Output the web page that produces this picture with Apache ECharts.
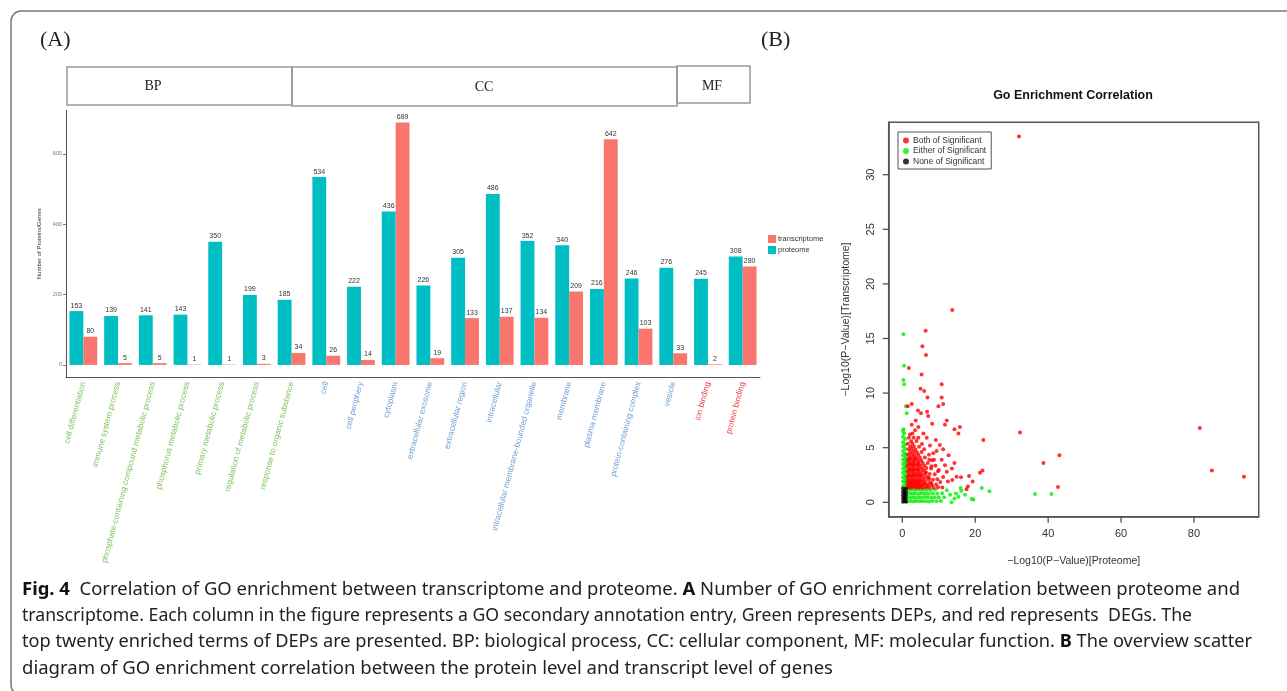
<!DOCTYPE html>
<html><head><meta charset="utf-8">
<script src="https://cdn.jsdelivr.net/npm/echarts@6/dist/echarts.min.js"></script>
<style>html,body{margin:0;padding:0;background:#fff}#c{width:1287px;height:691px}</style>
</head><body><div id="c"></div>
<script>
// ---------- Panel A data ----------
const categories = ['cell differentiation','immune system process','phosphate-containing compound metabolic process','phosphorus metabolic process','primary metabolic process','regulation of metabolic process','response to organic substance','cell','cell periphery','cytoplasm','extracellular exosome','extracellular region','intracellular','intracellular membrane-bounded organelle','membrane','plasma membrane','protein-containing complex','vesicle','ion binding','protein binding'];
const ontology = ['BP','BP','BP','BP','BP','BP','BP','CC','CC','CC','CC','CC','CC','CC','CC','CC','CC','CC','MF','MF'];
const proteome = [153,139,141,143,350,199,185,534,222,436,226,305,486,352,340,216,246,276,245,308];
const transcriptome = [80,5,5,1,1,3,34,26,14,689,19,133,137,134,209,642,103,33,2,280];
const yTicksA = [0,200,400,600];

// ---------- Panel B data ----------
const xTicksB = [0,20,40,60,80];
const yTicksB = [0,5,10,15,20,25,30];
const xRangeB = [-3.73, 97.75];
const yRangeB = [-1.32, 34.8];
const bothSignificant = [
 [32.0,33.5],[13.7,17.6],[6.4,15.7],[5.5,14.3],[6.5,13.5],[1.8,12.3],[5.3,11.7],[10.8,10.8],[5.0,10.4],[6.0,10.2],
 [6.9,9.6],[10.8,9.6],[11.2,9.0],[9.9,8.8],[2.6,9.0],[1.5,8.8],[4.3,8.4],[6.8,8.3],[5.1,8.15],[7.1,7.9],
 [12.2,7.5],[11.7,7.1],[8.2,7.2],[15.8,6.9],[14.3,6.7],[15.4,6.3],[32.3,6.4],[81.6,6.8],[22.2,5.7],[9.2,5.7],
 [38.7,3.6],[43.1,4.3],[84.9,2.9],[93.7,2.35],[42.7,1.4],[22.0,2.9],[21.3,2.7],[18.3,2.4],[16.1,2.3],[14.9,2.35],
 [19.3,1.9],[18.0,1.45],[17.6,1.2],[14.3,3.6],[13.6,3.1],[12.2,2.8],[13.7,2.05],[12.7,4.3],[11.2,4.85],[10.3,5.25],
 [9.4,4.7],[10.8,3.9],[11.7,3.4],[10.0,2.95],[8.0,3.3],[8.7,3.9],[7.6,5.2],[5.8,6.3],[4.4,6.9],[3.5,6.6],
 [2.6,7.1],[3.7,7.5],[2.8,6.3],[4.4,5.9],[6.7,5.9],[8.5,4.5],[7.4,3.9],
 [1.4,1.35],[2.2,1.32],[3.0,1.38],[3.9,1.34],[4.7,1.36],[5.6,1.33],[6.5,1.37],[7.4,1.35],[8.6,1.33],[9.8,1.38],[11.0,1.36],
 [1.6,1.6],[2.5,1.62],[3.3,1.58],[4.2,1.61],[5.1,1.59],[6.0,1.63],[7.0,1.6],[8.1,1.57],[9.3,1.62],
 [1.4,1.85],[2.1,1.88],[2.9,1.84],[3.8,1.86],[4.6,1.83],[5.5,1.87],[6.4,1.85],[7.6,1.82],[10.4,1.86],[12.5,1.9],
 [1.7,2.1],[2.6,2.12],[3.4,2.08],[4.3,2.11],[5.2,2.09],[6.1,2.13],[7.2,2.1],[8.4,2.07],[9.6,2.12],
 [1.4,2.35],[2.2,2.37],[3.0,2.33],[3.9,2.36],[4.8,2.34],[5.7,2.38],[6.8,2.35],[11.2,2.32],
 [1.8,2.6],[2.7,2.62],[3.5,2.58],[4.4,2.61],[5.3,2.59],[6.3,2.63],[7.5,2.6],[8.9,2.57],
 [1.5,2.85],[2.3,2.87],[3.1,2.83],[4.0,2.86],[4.9,2.84],[5.9,2.88],[9.8,2.85],
 [1.9,3.1],[2.8,3.12],[3.7,3.08],[4.6,3.11],[5.5,3.09],[6.6,3.13],[7.9,3.1],
 [1.4,3.35],[2.4,3.37],[3.2,3.33],[4.1,3.36],[5.0,3.34],[6.1,3.38],[9.1,3.35],
 [1.8,3.6],[2.7,3.62],[3.6,3.58],[4.5,3.61],[5.6,3.59],[7.0,3.6],
 [1.5,3.85],[2.3,3.87],[3.2,3.83],[4.2,3.86],[5.2,3.84],[8.2,3.85],
 [2.0,4.1],[2.9,4.12],[3.8,4.08],[4.8,4.11],[6.2,4.1],
 [1.6,4.35],[2.5,4.37],[3.4,4.33],[4.4,4.36],[7.3,4.35],
 [2.1,4.6],[3.0,4.62],[4.0,4.58],[5.3,4.6],
 [1.7,4.85],[2.6,4.87],[3.6,4.83],[6.0,4.85],
 [2.2,5.1],[3.2,5.12],[4.6,5.08],
 [1.5,5.35],[2.8,5.37],[5.4,5.33],
 [2.4,5.6],[3.9,5.62],[1.8,5.9],[3.1,5.92],[2.1,6.2],
 [1.9,1.45],[2.7,1.48],[3.5,1.47],[4.4,1.46],[5.3,1.49],[1.8,1.73],[2.6,1.75],[3.6,1.72],[4.5,1.74],[5.8,1.73],
 [1.9,1.98],[2.8,1.99],[3.8,1.97],[4.8,1.99],[1.9,2.48],[2.9,2.47],[3.9,2.49],[4.9,2.46],[2.0,2.98],[3.0,2.97],
 [4.3,2.99],[2.1,3.47],[3.1,3.48],[4.4,3.46],[2.0,3.97],[3.4,3.96],[6.5,2.75],[7.3,2.25],[8.0,1.72],[6.8,1.48]
];
const eitherSignificant = [
 [0.3,15.4],[0.5,12.5],[0.3,11.2],[0.5,10.8],[1.0,8.8],[1.2,8.15],[0.3,6.7],[0.5,6.3],
 [21.8,1.3],[23.9,1.0],[16.0,1.3],[17.2,0.7],[19.0,0.3],[19.5,0.25],[14.7,0.8],[13.5,0.0],[14.3,0.35],[13.1,0.7],
 [12.2,1.1],[15.4,0.5],[36.4,0.75],[40.9,0.75],[16.2,1.05],
 [1.5,0.1],[2.3,0.12],[3.1,0.08],[3.9,0.11],[4.8,0.09],[5.6,0.12],[6.5,0.1],[7.4,0.08],[8.3,0.11],[9.4,0.1],[10.6,0.12],
 [1.8,0.45],[2.6,0.47],[3.4,0.43],[4.3,0.46],[5.1,0.44],[6.0,0.48],[6.9,0.45],[7.9,0.43],[8.9,0.46],[10.0,0.44],[11.5,0.47],
 [1.4,0.8],[2.2,0.82],[3.0,0.78],[3.8,0.81],[4.7,0.79],[5.5,0.83],[6.4,0.8],[7.3,0.78],[8.4,0.81],[9.6,0.79],[10.9,0.82],
 [1.7,1.15],[2.5,1.17],[3.3,1.13],[4.1,1.16],[5.0,1.14],[5.9,1.18],[6.8,1.15],[7.8,1.13],[9.1,1.16],
 [0.2,1.5],[0.2,1.9],[0.2,2.3],[0.2,2.7],[0.2,3.1],[0.2,3.5],[0.2,3.9],[0.2,4.3],[0.2,4.7],[0.2,5.1],[0.2,5.5],[0.2,6.0],[0.2,6.5],
 [0.8,1.4],[0.8,1.7],[0.8,2.1],[0.8,2.5],[0.8,2.9],[0.8,3.3],[0.8,3.7],[0.8,4.1],[0.8,4.5],[0.8,4.9],[0.8,5.3],[0.8,5.8],
 [1.15,1.6],[1.15,2.0],[1.15,2.4],[1.15,2.8],[1.15,3.2],[1.15,3.6],[1.15,4.0],[1.15,4.4]
];
const noneSignificant = [
 [0.2,0.05],[0.2,0.35],[0.2,0.65],[0.2,0.95],[0.2,1.25],
 [0.6,0.15],[0.6,0.45],[0.6,0.75],[0.6,1.05],
 [1.0,0.05],[1.0,0.35],[1.0,0.65],[1.0,0.95],[1.0,1.25]
];

// ---------- Caption ----------
const captionLines = [
 [{b:1,t:'Fig. 4'},{t:'  Correlation of GO enrichment between transcriptome and proteome. '},{b:1,t:'A'},{t:' Number of GO enrichment correlation between proteome and'}],
 [{t:'transcriptome. Each column in the figure represents a GO secondary annotation entry, Green represents DEPs, and red represents  DEGs. The'}],
 [{t:'top twenty enriched terms of DEPs are presented. BP: biological process, CC: cellular component, MF: molecular function. '},{b:1,t:'B'},{t:' The overview scatter'}],
 [{t:'diagram of GO enrichment correlation between the protein level and transcript level of genes'}]
];
const captionRight = [1240, 1192, 1252, 833];
const captionY = [590, 616, 642, 669];

const CAPFS = 18;
const mctx = document.createElement('canvas').getContext('2d');
function measure(parts){
  let w = 0;
  parts.forEach(p => { mctx.font = (p.b ? 'bold ' : '') + CAPFS + 'px "Noto Sans"'; w += mctx.measureText(p.t).width; });
  return w;
}
const captionGraphics = captionLines.map((parts, i) => {
  const w = measure(parts);
  const sx = (captionRight[i] - 22) / w;
  return {
    type: 'text', x: 22, y: captionY[i], scaleX: sx, silent: true,
    style: {
      text: parts.map(p => (p.b ? '{b|' : '{n|') + p.t + '}').join(''),
      rich: {
        b: {fontFamily: 'Noto Sans', fontWeight: 'bold', fontSize: CAPFS, fill: '#111'},
        n: {fontFamily: 'Noto Sans', fontSize: CAPFS, fill: '#222'}
      },
      verticalAlign: 'middle', align: 'left'
    }
  };
});

const groupColor = {BP: '#7cc35d', CC: '#6a9fd6', MF: '#ec3b3b'};

const chart = echarts.init(document.getElementById('c'), null, {renderer: 'canvas'});
const baseGraphics = [
    {type: 'rect', silent: true, shape: {x: 11, y: 11, width: 1290, height: 684, r: 10}, style: {fill: 'none', stroke: '#777', lineWidth: 1.5}},
    {type: 'text', silent: true, x: 40, y: 40, style: {text: '(A)', fontFamily: 'Liberation Serif', fontSize: 22, fill: '#222', verticalAlign: 'middle'}},
    {type: 'text', silent: true, x: 761, y: 40, style: {text: '(B)', fontFamily: 'Liberation Serif', fontSize: 22, fill: '#222', verticalAlign: 'middle'}},
    {type: 'rect', silent: true, shape: {x: 67, y: 67, width: 225, height: 38}, style: {fill: 'none', stroke: '#999', lineWidth: 1.5}},
    {type: 'rect', silent: true, shape: {x: 292, y: 67, width: 385, height: 39}, style: {fill: 'none', stroke: '#999', lineWidth: 1.5}},
    {type: 'rect', silent: true, shape: {x: 677, y: 66, width: 73, height: 37}, style: {fill: 'none', stroke: '#999', lineWidth: 1.5}},
    {type: 'text', silent: true, x: 153, y: 86, style: {text: 'BP', fontFamily: 'Liberation Serif', fontSize: 14, fill: '#222', align: 'center', verticalAlign: 'middle'}},
    {type: 'text', silent: true, x: 484, y: 87, style: {text: 'CC', fontFamily: 'Liberation Serif', fontSize: 14, fill: '#222', align: 'center', verticalAlign: 'middle'}},
    {type: 'text', silent: true, x: 712, y: 86, style: {text: 'MF', fontFamily: 'Liberation Serif', fontSize: 14, fill: '#222', align: 'center', verticalAlign: 'middle'}},
    {type: 'text', silent: true, x: 1073, y: 96, style: {text: 'Go Enrichment Correlation', fontFamily: 'Liberation Sans', fontWeight: 'bold', fontSize: 12.5, fill: '#111', align: 'center', verticalAlign: 'middle'}}
  ].concat(captionGraphics);

chart.setOption({
  animation: false,
  textStyle: {fontFamily: 'Liberation Sans'},
  grid: [
    {left: 66, top: 110.5, width: 694, height: 266.5},
    {left: 888.7, top: 122.3, width: 370, height: 394.4, show: true, borderColor: '#555', borderWidth: 1.5, backgroundColor: 'transparent'}
  ],
  legend: [
    {data: ['transcriptome', 'proteome'], orient: 'vertical', left: 768, top: 235, icon: 'rect', itemWidth: 8, itemHeight: 8, itemGap: 3,
     textStyle: {fontSize: 7.5, color: '#333', padding: [0, 0, 0, -3]}, padding: 0},
    {data: ['Both of Significant', 'Either of Significant', 'None of Significant'], orient: 'vertical', left: 898, top: 132,
     icon: 'circle', itemWidth: 6, itemHeight: 6, itemGap: 1.5, padding: [4, 5, 3, 5], borderColor: '#555', borderWidth: 1,
     textStyle: {fontSize: 8.5, color: '#333', padding: [0, 0, 0, -1]}}
  ],
  xAxis: [
    {type: 'category', gridIndex: 0, data: categories, boundaryGap: true,
     axisLine: {onZero: false, lineStyle: {color: '#555', width: 1}},
     axisTick: {alignWithLabel: true, length: 3, lineStyle: {color: '#555'}},
     axisLabel: {interval: 0, rotate: 75, fontSize: 8.2, margin: 5,
       color: (v, i) => groupColor[ontology[categories.indexOf(v)]]},
     splitLine: {show: false}},
    {type: 'value', gridIndex: 1, min: xRangeB[0], max: xRangeB[1], position: 'bottom',
     name: '−Log10(P−Value)[Proteome]', nameLocation: 'middle', nameGap: 39,
     nameTextStyle: {fontSize: 10.5, color: '#333'},
     axisLine: {show: true, onZero: false, lineStyle: {color: '#555', width: 1.5}},
     axisTick: {show: false},
     axisLabel: {customValues: xTicksB, fontSize: 11, color: '#333', margin: 12},
     splitLine: {show: false}}
  ],
  yAxis: [
    {type: 'value', gridIndex: 0, min: -34.45, max: 723.45,
     name: 'Number of Proteins/Genes', nameLocation: 'middle', nameGap: 14,
     nameTextStyle: {fontSize: 6, color: '#333'},
     axisLine: {show: true, lineStyle: {color: '#555', width: 1}},
     axisTick: {show: true, length: 3, customValues: yTicksA, lineStyle: {color: '#777'}},
     axisLabel: {customValues: yTicksA, fontSize: 5.5, color: '#777', margin: 4},
     splitLine: {show: false}},
    {type: 'value', gridIndex: 1, min: yRangeB[0], max: yRangeB[1], position: 'left',
     name: '−Log10(P−Value)[Transcriptome]', nameLocation: 'middle', nameGap: 37,
     nameTextStyle: {fontSize: 10.5, color: '#333'},
     axisLine: {show: true, onZero: false, lineStyle: {color: '#555', width: 1.5}},
     axisTick: {show: false},
     axisLabel: {customValues: yTicksB, fontSize: 11, color: '#333', rotate: 90, margin: 12},
     splitLine: {show: false}}
  ],
  series: [
    {name: 'proteome', type: 'bar', xAxisIndex: 0, yAxisIndex: 0, data: proteome, barGap: '0%', barCategoryGap: '20%',
     itemStyle: {color: '#00bfc4'},
     label: {show: true, position: 'top', distance: 2, fontSize: 7, color: '#333'}},
    {name: 'transcriptome', type: 'bar', xAxisIndex: 0, yAxisIndex: 0, data: transcriptome, barGap: '0%', barCategoryGap: '20%',
     itemStyle: {color: '#f8766d'},
     label: {show: true, position: 'top', distance: 2, fontSize: 7, color: '#333'}},
    {name: 'Either of Significant', type: 'scatter', xAxisIndex: 1, yAxisIndex: 1, data: eitherSignificant,
     symbol: 'circle', symbolSize: 4, itemStyle: {color: '#00ee00'}, silent: true},
    {name: 'Both of Significant', type: 'scatter', xAxisIndex: 1, yAxisIndex: 1, data: bothSignificant,
     symbol: 'circle', symbolSize: 4, itemStyle: {color: '#ff0000'}, silent: true},
    {name: 'None of Significant', type: 'scatter', xAxisIndex: 1, yAxisIndex: 1, data: noneSignificant,
     symbol: 'circle', symbolSize: 4, itemStyle: {color: '#000000'}, silent: true}
  ],
  graphic: baseGraphics
});

// Tick marks for panel B, positioned through the library's own axis scales
const tickLines = [];
const leftPx = chart.convertToPixel({xAxisIndex: 1}, xRangeB[0]);
const bottomPx = chart.convertToPixel({yAxisIndex: 1}, yRangeB[0]);
xTicksB.forEach(v => {
  const px = chart.convertToPixel({xAxisIndex: 1}, v);
  tickLines.push({type: 'line', silent: true, z: 100, shape: {x1: px, y1: bottomPx, x2: px, y2: bottomPx + 6}, style: {stroke: '#444', lineWidth: 1.2}});
});
yTicksB.forEach(v => {
  const py = chart.convertToPixel({yAxisIndex: 1}, v);
  tickLines.push({type: 'line', silent: true, z: 100, shape: {x1: leftPx - 6, y1: py, x2: leftPx, y2: py}, style: {stroke: '#444', lineWidth: 1.2}});
});
chart.setOption({graphic: baseGraphics.concat(tickLines)});
</script>
</body></html>
